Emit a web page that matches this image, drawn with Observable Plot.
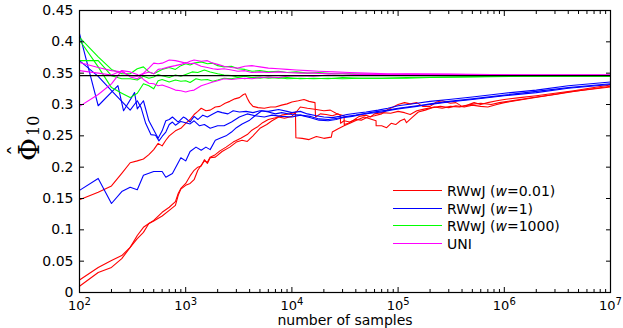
<!DOCTYPE html>
<html>
<head>
<meta charset="utf-8">
<script src="https://cdn.jsdelivr.net/npm/d3@7"></script>
<script src="https://cdn.jsdelivr.net/npm/@observablehq/plot@0.6"></script>
<style>
  html, body { margin: 0; padding: 0; background: #fff; }
  #chart { width: 623px; height: 328px; }
</style>
</head>
<body>
<div id="chart"></div>
<script>
// Estimates of Phi_10 versus number of samples, three runs per sampler.
const seriesNames = ["RWwJ (w=0.01)", "RWwJ (w=1)", "RWwJ (w=1000)", "UNI"];
const seriesColors = ["#ff0000", "#0000ff", "#00ff00", "#ff00ff"];
const weightLabels = ["0.01", "1", "1000"];
const truePhi = 0.346;

const xMajorTicks = [1e2, 1e3, 1e4, 1e5, 1e6, 1e7];
const xMinorSteps = [2, 3, 4, 5, 6, 7, 8, 9];
const yTicks = [0, 0.05, 0.1, 0.15, 0.2, 0.25, 0.3, 0.35, 0.4, 0.45];

// RWwJ, w = 0.01
const w001Run1 = [[100,0.148],[150,0.160],[200,0.170],[250,0.190],[300,0.207],[350,0.210],[400,0.213],[450,0.220],[500,0.228],[550,0.238],[600,0.234],[650,0.243],[700,0.250],[800,0.258],[900,0.262],[1000,0.270],[1100,0.276],[1200,0.284],[1300,0.289],[1400,0.294],[1550,0.290],[1700,0.291],[1900,0.296],[2100,0.297],[2350,0.302],[2600,0.305],[2900,0.309],[3200,0.311],[3500,0.316],[3650,0.317],[3800,0.310],[4000,0.303],[4300,0.297],[4800,0.295],[5500,0.294],[6300,0.296],[7000,0.296],[8000,0.299],[9000,0.301],[10000,0.304],[11500,0.306],[13000,0.308],[14500,0.305],[16500,0.303],[16700,0.280],[18500,0.285],[21000,0.284],[24000,0.282],[27000,0.285],[28600,0.283],[28700,0.270],[31000,0.274],[35000,0.272],[40000,0.276],[45000,0.275],[52000,0.280],[60000,0.282],[70000,0.285],[80000,0.292],[90000,0.296],[100000,0.300],[115000,0.303],[130000,0.301],[150000,0.303],[170000,0.297],[200000,0.297],[230000,0.304],[260000,0.306],[310000,0.302],[350000,0.303],[400000,0.297],[450000,0.299],[520000,0.303],[600000,0.300],[700000,0.303],[850000,0.306],[1e6,0.308],[1.4e6,0.311],[2e6,0.314],[3e6,0.318],[4.5e6,0.322],[7e6,0.327],[1e7,0.331]];
const w001Run2 = [[100,0.020],[150,0.040],[200,0.051],[250,0.059],[300,0.072],[350,0.086],[400,0.096],[450,0.110],[500,0.114],[600,0.122],[700,0.131],[800,0.139],[850,0.155],[900,0.165],[1000,0.171],[1100,0.174],[1200,0.180],[1300,0.195],[1400,0.203],[1500,0.210],[1600,0.208],[1700,0.216],[1900,0.220],[2100,0.226],[2400,0.232],[2800,0.240],[3300,0.246],[3800,0.252],[4200,0.259],[4800,0.265],[5300,0.271],[6000,0.276],[7000,0.279],[8000,0.283],[9500,0.285],[11000,0.288],[12000,0.296],[14000,0.294],[17000,0.292],[20000,0.290],[23000,0.291],[26000,0.286],[28000,0.284],[31000,0.282],[31100,0.268],[34000,0.270],[38000,0.275],[43000,0.281],[50000,0.283],[55000,0.280],[60000,0.285],[70000,0.287],[85000,0.286],[100000,0.289],[115000,0.287],[130000,0.284],[150000,0.290],[180000,0.293],[220000,0.296],[260000,0.294],[310000,0.297],[380000,0.296],[480000,0.300],[600000,0.302],[750000,0.300],[900000,0.303],[1.3e6,0.307],[2e6,0.312],[3e6,0.316],[5e6,0.322],[1e7,0.329]];
const w001Run3 = [[100,0.010],[150,0.032],[200,0.040],[250,0.054],[300,0.072],[350,0.091],[400,0.104],[450,0.110],[500,0.115],[600,0.128],[700,0.136],[800,0.145],[850,0.158],[900,0.166],[1000,0.174],[1100,0.186],[1200,0.195],[1300,0.200],[1400,0.202],[1500,0.212],[1600,0.206],[1700,0.215],[1900,0.216],[2200,0.225],[2600,0.232],[3000,0.240],[3400,0.243],[3800,0.241],[4300,0.250],[5000,0.262],[5800,0.268],[6500,0.274],[7500,0.280],[8500,0.278],[10000,0.281],[10800,0.288],[10900,0.247],[12500,0.246],[14500,0.244],[17000,0.249],[20000,0.246],[23500,0.248],[24000,0.256],[27000,0.261],[31000,0.266],[36000,0.271],[42000,0.276],[48000,0.280],[55000,0.277],[62000,0.274],[62100,0.266],[70000,0.266],[78000,0.263],[86000,0.270],[95000,0.268],[105000,0.274],[115000,0.277],[120000,0.271],[135000,0.279],[155000,0.288],[180000,0.291],[210000,0.295],[250000,0.297],[300000,0.295],[350000,0.298],[420000,0.296],[500000,0.299],[600000,0.297],[700000,0.296],[850000,0.300],[1e6,0.303],[1.5e6,0.308],[2.5e6,0.314],[4e6,0.320],[1e7,0.328]];

// RWwJ, w = 1
const w1Run1 = [[100,0.413],[150,0.298],[230,0.330],[260,0.290],[330,0.319],[350,0.293],[400,0.306],[450,0.274],[550,0.246],[600,0.258],[650,0.274],[700,0.276],[750,0.280],[850,0.272],[950,0.280],[1000,0.278],[1100,0.272],[1200,0.281],[1300,0.276],[1450,0.283],[1600,0.280],[1800,0.285],[2000,0.289],[2200,0.287],[2500,0.285],[2800,0.290],[3200,0.288],[3700,0.289],[4300,0.287],[5000,0.290],[6000,0.289],[7500,0.292],[9000,0.289],[10000,0.287],[12000,0.289],[14000,0.285],[17000,0.282],[20000,0.280],[24000,0.279],[28000,0.281],[33000,0.284],[40000,0.286],[50000,0.288],[65000,0.291],[80000,0.294],[100000,0.298],[150000,0.302],[200000,0.305],[300000,0.308],[500000,0.312],[1e6,0.318],[2e6,0.323],[4e6,0.330],[1e7,0.336]];
const w1Run2 = [[100,0.370],[150,0.345],[200,0.322],[250,0.305],[300,0.291],[350,0.306],[380,0.295],[420,0.270],[470,0.252],[520,0.251],[560,0.242],[600,0.249],[650,0.256],[700,0.268],[750,0.272],[800,0.267],[900,0.273],[1000,0.271],[1100,0.269],[1200,0.274],[1350,0.266],[1500,0.268],[1700,0.262],[2000,0.266],[2300,0.266],[2700,0.272],[3200,0.280],[3800,0.285],[4500,0.282],[5500,0.280],[6500,0.283],[8000,0.281],[10000,0.280],[12000,0.283],[15000,0.281],[18000,0.277],[22000,0.276],[27000,0.278],[33000,0.281],[40000,0.283],[50000,0.286],[65000,0.289],[80000,0.291],[100000,0.294],[150000,0.298],[200000,0.300],[300000,0.304],[500000,0.308],[1e6,0.314],[2e6,0.319],[4e6,0.326],[1e7,0.332]];
const w1Run3 = [[100,0.163],[150,0.182],[200,0.142],[250,0.161],[300,0.168],[350,0.164],[400,0.187],[500,0.193],[600,0.193],[650,0.184],[750,0.190],[900,0.215],[1000,0.210],[1100,0.225],[1250,0.232],[1400,0.227],[1550,0.232],[1700,0.228],[1900,0.243],[2100,0.246],[2400,0.250],[2700,0.256],[3000,0.263],[3400,0.269],[4000,0.275],[4500,0.282],[5200,0.290],[6000,0.288],[7000,0.285],[8000,0.287],[10000,0.284],[12000,0.283],[15000,0.279],[18000,0.275],[22000,0.274],[26000,0.276],[30000,0.279],[37000,0.281],[45000,0.284],[55000,0.286],[70000,0.288],[85000,0.291],[100000,0.293],[150000,0.297],[200000,0.301],[300000,0.305],[500000,0.309],[1e6,0.315],[2e6,0.321],[4e6,0.327],[1e7,0.333]];

// RWwJ, w = 1000
const w1000Run1 = [[100,0.407],[150,0.376],[200,0.356],[250,0.349],[300,0.349],[350,0.357],[400,0.360],[450,0.352],[500,0.349],[600,0.356],[700,0.359],[800,0.356],[900,0.362],[1000,0.365],[1100,0.363],[1200,0.366],[1400,0.368],[1600,0.365],[1800,0.366],[2000,0.362],[2300,0.360],[2700,0.361],[3100,0.357],[3600,0.356],[4200,0.353],[5000,0.354],[6000,0.352],[7500,0.353],[9000,0.351],[11000,0.352],[14000,0.350],[18000,0.351],[25000,0.349],[35000,0.349],[50000,0.348],[80000,0.347],[1.5e5,0.347],[5e5,0.346],[2e6,0.346],[1e7,0.346]];
const w1000Run2 = [[100,0.403],[150,0.360],[200,0.327],[250,0.318],[300,0.311],[350,0.318],[400,0.333],[450,0.330],[500,0.325],[550,0.338],[600,0.340],[700,0.336],[800,0.339],[900,0.337],[1000,0.338],[1100,0.335],[1250,0.341],[1400,0.339],[1600,0.340],[1800,0.337],[2000,0.339],[2300,0.342],[2700,0.341],[3100,0.343],[3600,0.341],[4200,0.343],[5000,0.342],[6000,0.344],[7500,0.342],[9000,0.343],[12000,0.341],[16000,0.342],[22000,0.341],[30000,0.343],[45000,0.342],[70000,0.342],[1.2e5,0.342],[2e5,0.343],[5e5,0.344],[1.5e6,0.345],[1e7,0.345]];
const w1000Run3 = [[100,0.370],[150,0.370],[200,0.346],[250,0.341],[300,0.341],[350,0.339],[400,0.345],[450,0.342],[500,0.344],[550,0.348],[600,0.346],[700,0.343],[800,0.347],[900,0.345],[1000,0.348],[1150,0.352],[1300,0.351],[1500,0.355],[1700,0.352],[2000,0.349],[2300,0.347],[2700,0.346],[3100,0.344],[3600,0.345],[4200,0.343],[5000,0.344],[6000,0.342],[7500,0.343],[9000,0.341],[12000,0.342],[16000,0.341],[22000,0.342],[30000,0.341],[45000,0.342],[70000,0.342],[1.2e5,0.343],[3e5,0.344],[1e6,0.345],[1e7,0.345]];

// UNI
const uniRun1 = [[100,0.367],[150,0.359],[200,0.354],[250,0.352],[300,0.346],[350,0.345],[400,0.350],[450,0.358],[500,0.366],[550,0.365],[600,0.366],[700,0.371],[800,0.370],[900,0.368],[1000,0.366],[1100,0.369],[1200,0.371],[1400,0.369],[1600,0.370],[1800,0.366],[2000,0.364],[2300,0.361],[2700,0.359],[3100,0.358],[3600,0.361],[4200,0.362],[5000,0.360],[6000,0.358],[7500,0.357],[9000,0.356],[11000,0.355],[14000,0.354],[18000,0.353],[25000,0.352],[35000,0.351],[50000,0.350],[80000,0.349],[1.5e5,0.349],[5e5,0.348],[2e6,0.347],[1e7,0.347]];
const uniRun2 = [[100,0.354],[150,0.350],[200,0.347],[250,0.354],[300,0.352],[350,0.348],[400,0.340],[450,0.334],[500,0.333],[550,0.330],[600,0.331],[700,0.327],[800,0.323],[900,0.322],[1000,0.320],[1100,0.322],[1200,0.323],[1400,0.330],[1600,0.333],[1800,0.336],[2000,0.338],[2300,0.341],[2700,0.340],[3100,0.341],[3600,0.342],[4200,0.341],[5000,0.343],[6000,0.344],[7500,0.343],[9000,0.345],[12000,0.346],[16000,0.345],[22000,0.347],[30000,0.346],[45000,0.348],[70000,0.347],[1.2e5,0.348],[3e5,0.348],[1e6,0.347],[1e7,0.347]];
const uniRun3 = [[100,0.297],[150,0.316],[200,0.333],[250,0.354],[300,0.344],[350,0.341],[400,0.349],[450,0.352],[500,0.349],[550,0.356],[600,0.357],[700,0.360],[800,0.362],[900,0.364],[1000,0.367],[1100,0.365],[1200,0.366],[1400,0.361],[1600,0.359],[1800,0.357],[2000,0.356],[2300,0.357],[2700,0.355],[3100,0.353],[3600,0.354],[4200,0.351],[5000,0.352],[6000,0.351],[7500,0.352],[9000,0.351],[12000,0.350],[16000,0.350],[22000,0.349],[30000,0.349],[45000,0.348],[70000,0.348],[1.2e5,0.348],[3e5,0.347],[1e6,0.347],[1e7,0.347]];

const runsBySeries = [
  [w001Run1, w001Run2, w001Run3],
  [w1Run1, w1Run2, w1Run3],
  [w1000Run1, w1000Run2, w1000Run3],
  [uniRun1, uniRun2, uniRun3]
];

// Long table: one row per sample point
const rows = [];
runsBySeries.forEach((runs, s) => {
  runs.forEach((run, r) => {
    run.forEach(([n, v]) => rows.push({series: seriesNames[s], run: `${s}-${r}`, n, v}));
  });
});

const xMinorTicks = xMajorTicks.slice(0, -1).flatMap(d => xMinorSteps.map(k => k * d));
const powerFormat = d => "10^" + Math.round(Math.log10(d));
const yFormat = d => String(+d.toFixed(2));

const chart = Plot.plot({
  width: 623,
  height: 328,
  marginLeft: 79,
  marginRight: 13,
  marginTop: 10,
  marginBottom: 36,
  style: {fontFamily: "DejaVu Sans", fontSize: "14px", background: "#fff", color: "#000", overflow: "visible"},
  x: {type: "log", domain: [1e2, 1e7]},
  y: {domain: [0, 0.45]},
  color: {domain: seriesNames, range: seriesColors},
  marks: [
    Plot.line(rows, {x: "n", y: "v", z: "run", stroke: "series", strokeWidth: 1.1, curve: "linear"}),
    Plot.ruleY([truePhi], {stroke: "#000", strokeWidth: 1.3}),
    Plot.frame({stroke: "#000", strokeWidth: 1.2}),
    Plot.axisX(xMajorTicks, {anchor: "bottom", tickSize: -5, tickPadding: 13, fontSize: 13, tickFormat: powerFormat, label: null}),
    Plot.axisX(xMinorTicks, {anchor: "bottom", tickSize: -3, fill: "none", label: null}),
    Plot.axisX(xMajorTicks, {anchor: "top", tickSize: -5, fill: "none", label: null}),
    Plot.axisX(xMinorTicks, {anchor: "top", tickSize: -3, fill: "none", label: null}),
    Plot.axisY(yTicks, {anchor: "left", tickSize: -5, tickPadding: 11, tickFormat: yFormat, label: null}),
    Plot.axisY(yTicks, {anchor: "right", tickSize: -5, fill: "none", label: null}),
    Plot.text(["number of samples"], {frameAnchor: "bottom", dy: 32, text: d => d, fontSize: 14})
  ]
});

document.getElementById("chart").appendChild(chart);

const svg = d3.select(chart);

// Powers of ten on the x axis: base plus raised exponent
svg.selectAll("text").each(function() {
  const m = /^10\^(\d+)$/.exec(this.textContent);
  if (!m) return;
  const t = d3.select(this);
  t.text("10");
  t.append("tspan").attr("font-size", 10).attr("dy", "-0.5em").text(m[1]);
});

// Axis title: Phi-hat with subscript 10, reading upward
const yTitle = svg.append("g")
  .attr("transform", "translate(39,161) rotate(-90)")
  .attr("font-family", "DejaVu Serif")
  .attr("text-anchor", "start")
  .attr("fill", "#000");
yTitle.append("text").attr("font-size", 28).text("Φ");
yTitle.append("text").attr("x", 5).attr("y", -14).attr("font-size", 22).text("ˆ");
yTitle.append("text").attr("x", 25).attr("y", 0).attr("font-size", 16).text("10");

// Legend inside the lower right of the frame
const legend = svg.append("g")
  .attr("font-family", "DejaVu Sans")
  .attr("font-size", 14)
  .attr("text-anchor", "start");
const legendNames = weightLabels.map(w => ["RWwJ (", "w", "=" + w + ")"]).concat([["UNI"]]);
const legendRows = [190.5, 208.5, 225.5, 243.5];
legendNames.forEach((parts, i) => {
  const y = legendRows[i];
  legend.append("line")
    .attr("x1", 393).attr("x2", 442).attr("y1", y).attr("y2", y)
    .style("stroke", seriesColors[i]).attr("stroke-width", 1);
  const t = legend.append("text").attr("x", 447).attr("y", y).attr("dy", "0.36em").attr("fill", "#000");
  parts.forEach((p, k) => {
    const span = t.append("tspan").text(p);
    if (k === 1) span.attr("font-style", "italic");
  });
});
</script>
</body>
</html>
